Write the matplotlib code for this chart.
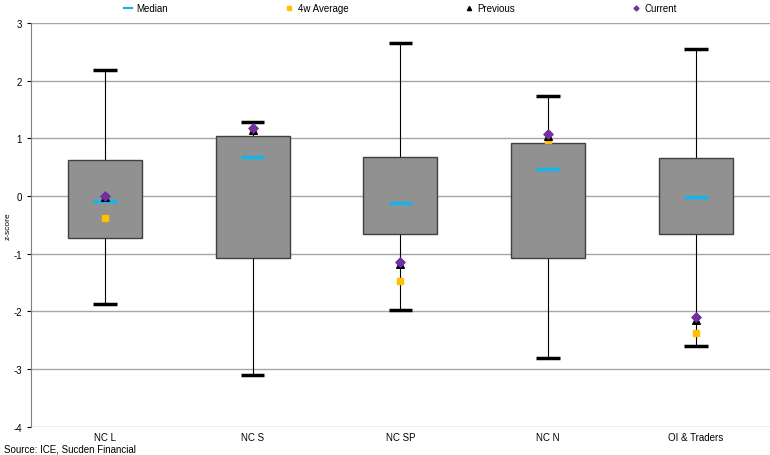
import matplotlib.pyplot as plt
from matplotlib.lines import Line2D
import numpy as np

plt.rcParams['font.family'] = 'Liberation Sans'
plt.rcParams['font.size'] = 7
plt.rcParams['axes.unicode_minus'] = False

categories = ['NC L', 'NC S', 'NC SP', 'NC N', 'OI & Traders']
whisker_high = [2.18, 1.28, 2.65, 1.73, 2.55]
box_high = [0.62, 1.05, 0.68, 0.93, 0.66]
box_low = [-0.73, -1.08, -0.66, -1.08, -0.65]
whisker_low = [-1.87, -3.10, -1.97, -2.80, -2.60]
median = [-0.08, 0.68, -0.12, 0.47, -0.02]
avg_4w = [-0.38, 1.15, -1.48, 0.98, -2.38]
previous = [-0.02, 1.15, -1.18, 1.05, -2.15]
current = [0.0, 1.18, -1.15, 1.08, -2.10]

fig = plt.figure(figsize=(7.70, 4.56), dpi=100)
ax = fig.add_axes([0.04, 0.062, 0.96, 0.885])

x = np.arange(len(categories))
for i in x:
    ax.vlines(i, whisker_low[i], whisker_high[i], color='black', lw=0.8, zorder=2)
    for w in (whisker_low[i], whisker_high[i]):
        ax.hlines(w, i - 0.08, i + 0.08, color='black', lw=2.5, zorder=3)
ax.bar(x, np.array(box_high) - np.array(box_low), bottom=box_low, width=0.5,
       color='#919191', edgecolor='#404040', lw=1, zorder=3)
ax.hlines(median, x - 0.08, x + 0.08, color='#13b5ea', lw=2.5, zorder=4)
ax.scatter(x, avg_4w, marker='s', s=14, color='#ffc000', zorder=5)
ax.scatter(x, previous, marker='^', s=30, color='black', zorder=6)
ax.scatter(x, current, marker='D', s=22, color='#7030a0', zorder=7)

ax.set_xlim(-0.5, len(categories) - 0.5)
ax.set_ylim(-4, 3)
ax.set_yticks(range(-4, 4))
ax.set_xticks(x)
ax.set_xticklabels(categories)
ax.tick_params(axis='x', which='both', length=0)
ax.tick_params(axis='y', length=3)
ax.set_ylabel('z-score', fontsize=6, labelpad=1)
ax.grid(axis='y', color='#a6a6a6', lw=1, zorder=0)
for s in ['top', 'right', 'bottom']:
    ax.spines[s].set_visible(False)
ax.spines['left'].set_color('#808080')

handles = [
    Line2D([], [], color='#13b5ea', lw=1.5),
    Line2D([], [], color='#ffc000', marker='s', ls='', markersize=3),
    Line2D([], [], color='black', marker='^', ls='', markersize=3),
    Line2D([], [], color='#7030a0', marker='D', ls='', markersize=2.5),
]
fig.legend(handles, ['Median', '4w Average', 'Previous', 'Current'], loc='upper center',
           bbox_to_anchor=(0.52, 1.01), ncol=4, frameon=False, columnspacing=12,
           handlelength=0.8, handletextpad=0.5)
fig.text(0.005, 0.008, 'Source: ICE, Sucden Financial', fontsize=7)
fig.savefig('out.png', dpi=100)
